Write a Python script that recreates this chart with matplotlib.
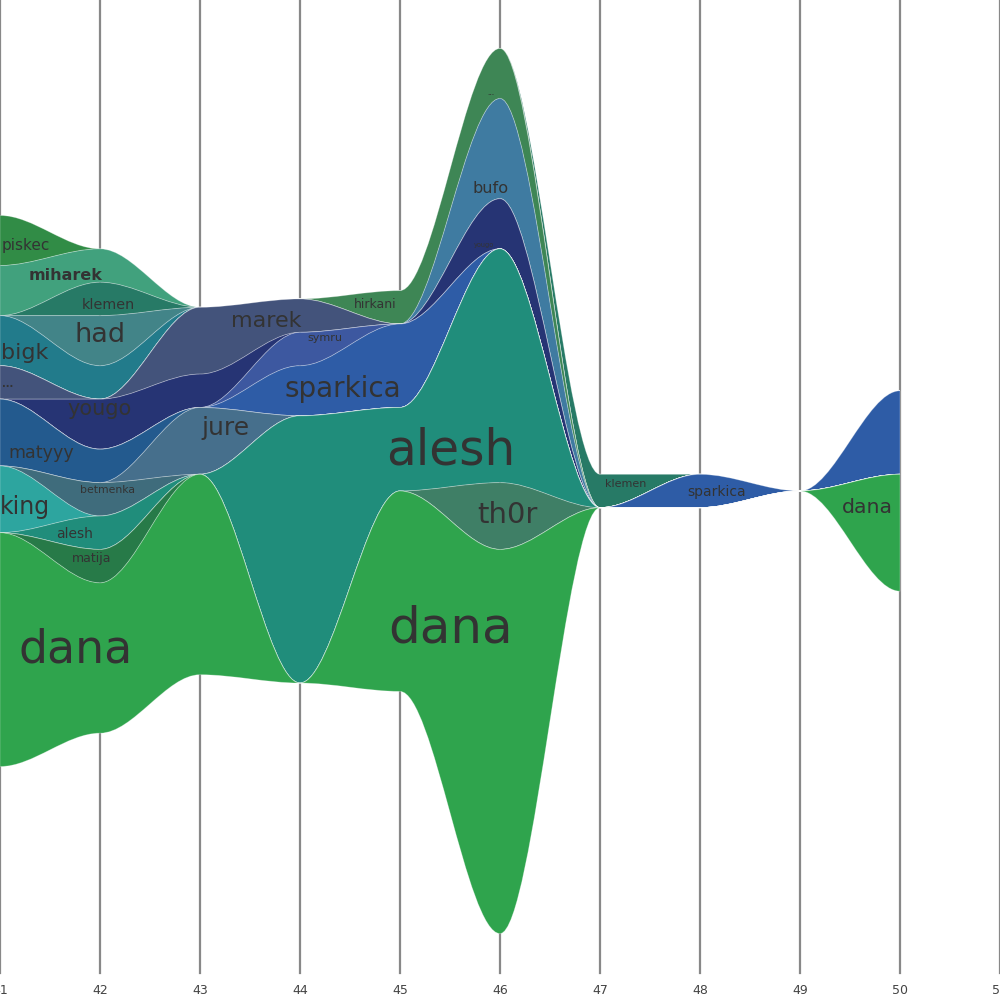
import numpy as np
import matplotlib
matplotlib.use("Agg")
import matplotlib.pyplot as plt
from matplotlib.path import Path
from matplotlib.patches import PathPatch

weeks = [41, 42, 43, 44, 45, 46, 47, 48, 49, 50]

# stack order, top to bottom
names = ["piskec", "miharek", "klemen", "had", "bigk", "hirkani", "bufo", "marek",
         "yougo", "symru", "sparkica", "matyyy", "jure", "betmenka", "king",
         "alesh", "th0r", "matija", "dana"]

piskec   = [3, 0, 0, 0, 0, 0, 0, 0, 0, 0]
miharek  = [3, 2, 0, 0, 0, 0, 0, 0, 0, 0]
klemen   = [0, 2, 0, 0, 0, 0, 2, 0, 0, 0]
had      = [0, 3, 0, 0, 0, 0, 0, 0, 0, 0]
bigk     = [3, 2, 0, 0, 0, 0, 0, 0, 0, 0]
hirkani  = [0, 0, 0, 0, 2, 3, 0, 0, 0, 0]
bufo     = [0, 0, 0, 0, 0, 6, 0, 0, 0, 0]
marek    = [2, 0, 4, 2, 0, 0, 0, 0, 0, 0]
yougo    = [0, 3, 2, 0, 0, 3, 0, 0, 0, 0]
symru    = [0, 0, 0, 2, 0, 0, 0, 0, 0, 0]
sparkica = [0, 0, 0, 3, 5, 0, 0, 2, 0, 5]
matyyy   = [4, 2, 0, 0, 0, 0, 0, 0, 0, 0]
jure     = [0, 0, 4, 0, 0, 0, 0, 0, 0, 0]
betmenka = [0, 2, 0, 0, 0, 0, 0, 0, 0, 0]
king     = [4, 0, 0, 0, 0, 0, 0, 0, 0, 0]
alesh    = [0, 2, 0, 16, 5, 14, 0, 0, 0, 0]
th0r     = [0, 0, 0, 0, 0, 4, 0, 0, 0, 0]
matija   = [0, 2, 0, 0, 0, 0, 0, 0, 0, 0]
dana     = [14, 9, 12, 0, 12, 23, 0, 0, 0, 7]

series = [piskec, miharek, klemen, had, bigk, hirkani, bufo, marek, yougo, symru,
          sparkica, matyyy, jure, betmenka, king, alesh, th0r, matija, dana]

colors = ["#318c46", "#41a17d", "#277a66", "#428488", "#227b8b", "#3e8655",
          "#3f7ba1", "#43537b", "#263474", "#3d58a0", "#2e5ca6", "#235a8e",
          "#466f8c", "#3f6c7c", "#2da59f", "#208d7b", "#3f7f66", "#277a48",
          "#2fa44d"]

# labels: text, x, baseline y, font size
labels = [
    ("piskec", 41.26, 14.43, 11), ("miharek", 41.66, 12.63, 11.5),
    ("klemen", 42.08, 10.90, 10.4), ("had", 42.00, 8.92, 19.5),
    ("bigk", 41.25, 7.90, 16), ("...", 41.075, 6.25, 7),
    ("yougo", 42.00, 4.55, 15), ("matyyy", 41.41, 1.98, 12.6),
    ("betmenka", 42.08, -0.12, 7.8), ("king", 41.25, -1.38, 17),
    ("alesh", 41.75, -2.81, 10), ("matija", 41.92, -4.25, 9),
    ("dana", 41.76, -10.24, 33), ("jure", 43.255, 3.35, 18),
    ("marek", 43.66, 9.82, 16), ("symru", 44.25, 8.98, 8),
    ("sparkica", 44.425, 5.63, 20), ("hirkani", 44.75, 10.96, 9),
    ("alesh", 45.505, 1.56, 35), ("th0r", 46.075, -1.92, 21),
    ("dana", 45.505, -9.10, 36), ("bufo", 45.91, 17.84, 11.6),
    ("...", 45.91, 23.71, 4.5), ("yougo", 45.84, 14.61, 4.7),
    ("klemen", 47.255, 0.24, 8), ("sparkica", 48.17, -0.30, 10),
    ("dana", 49.67, -1.32, 14.7),
]

vals = np.array(series, dtype=float)
x = np.array(weeks, dtype=float)
total = vals.sum(axis=0)
top = total / 2.0
upper = top - np.vstack([np.zeros(len(x)), np.cumsum(vals, axis=0)[:-1]])
lower = upper - vals


def segments(xs, ys):
    # cubic pieces, flat at every week, control points at thirds
    segs = []
    for i in range(len(xs) - 1):
        dx = (xs[i + 1] - xs[i]) / 3.0
        segs.append([(xs[i], ys[i]), (xs[i] + dx, ys[i]),
                     (xs[i + 1] - dx, ys[i + 1]), (xs[i + 1], ys[i + 1])])
    return segs


fig = plt.figure(figsize=(10, 10), dpi=100)
ax = fig.add_axes([0, 0, 1, 1])
unit = 16.7
ax.set_xlim(41, 51)
ax.set_ylim(-(1000 - 491) / unit, 491 / unit)
ax.axis("off")

for w in range(41, 52):
    ax.plot([w, w], [(491 - 973) / unit, 491 / unit], color="#888888", lw=1.6, zorder=0)
    ax.text(w, (491 - 990) / unit, str(w), ha="center", va="center",
            fontsize=9, color="#444444")

for i in range(len(names)):
    su = segments(x, upper[i])
    sl = segments(x, lower[i])
    verts = [su[0][0]]
    codes = [Path.MOVETO]
    for s in su:
        verts += s[1:]
        codes += [Path.CURVE4] * 3
    verts.append(sl[-1][3])
    codes.append(Path.LINETO)
    for s in reversed(sl):
        verts += [s[2], s[1], s[0]]
        codes += [Path.CURVE4] * 3
    verts.append(su[0][0])
    codes.append(Path.CLOSEPOLY)
    patch = PathPatch(Path(verts, codes), facecolor=colors[i],
                      edgecolor=(1, 1, 1, 0.3), lw=0.6, zorder=2)
    ax.add_patch(patch)

for text, lx, ly, size in labels:
    weight = "bold" if text in ("miharek", "...") else "normal"
    ax.text(lx, ly, text, ha="center", va="baseline", fontsize=size,
            color="#333333", fontweight=weight, zorder=3)

fig.savefig("out.png", dpi=100)
